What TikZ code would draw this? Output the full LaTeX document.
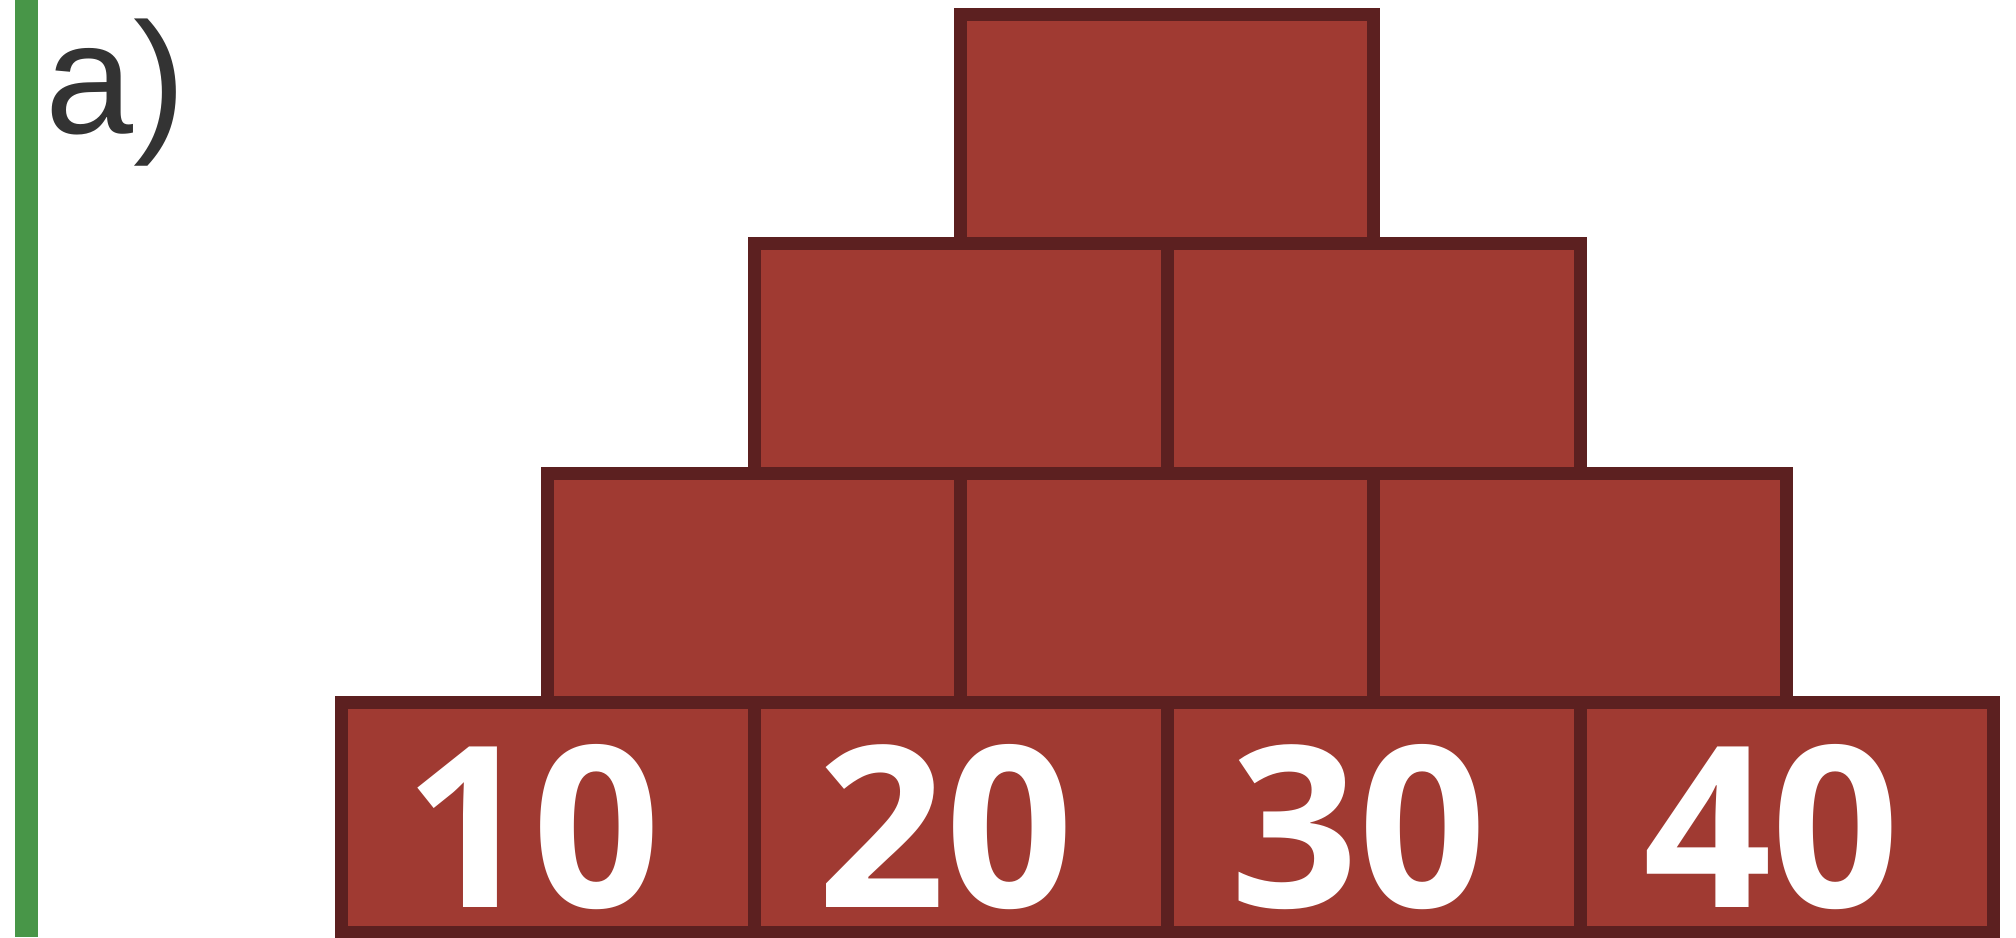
\documentclass[tikz,border=0pt]{standalone}
\usepackage{fontspec}
\setmainfont{Liberation Sans}
\newfontfamily\digitfont{Open Sans}
\usepackage{tikz}
\usetikzlibrary{positioning}

\definecolor{brickred}{RGB}{160,58,50}
\definecolor{brickline}{RGB}{92,32,32}
\definecolor{marginbar}{RGB}{72,150,72}

\begin{document}
\begin{tikzpicture}[
    brick/.style={rectangle, draw=brickline, fill=brickred, line width=1.3mm, minimum width=4.13cm, minimum height=2.295cm, inner sep=0pt},
    num/.style={text=white, font=\digitfont\bfseries\fontsize{64}{64}\selectfont, inner sep=1pt},
    tag/.style={text=black!80, font=\fontsize{45}{45}\selectfont, inner sep=0pt, anchor=base west}
]
\useasboundingbox (0,0) rectangle (20.16,9.37);

% margin bar and part label
\fill[marginbar] (0.15,0) rectangle (0.38,9.37);
\node[tag] (lbl) at (0.45,8.04) {a)};

% pyramid, row 0 at the bottom
\foreach \row in {0,...,3} {
    \pgfmathtruncatemacro{\last}{3-\row}
    \foreach \col in {0,...,\last} {
        \node[brick] (b-\row-\col) at ({11.67+(\col-\last/2)*4.13}, {1.1975+2.295*\row}) {};
    }
}

% given numbers in the bottom row
\foreach \col/\val in {0/10, 1/20, 2/30, 3/40} {
    \node[num, xshift=-1.5mm, yshift=-1mm] (n\col) at (b-0-\col) {\val};
}

\end{tikzpicture}
\end{document}
